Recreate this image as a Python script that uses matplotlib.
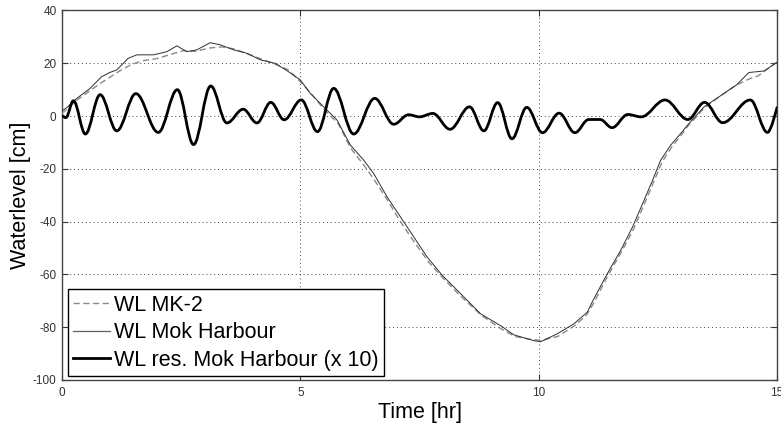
import matplotlib
matplotlib.use("Agg")
import matplotlib.pyplot as plt
from matplotlib.path import Path
from matplotlib.patches import PathPatch
from matplotlib.lines import Line2D

plt.rcParams['font.family'] = ['Liberation Sans', 'DejaVu Sans']

# Measured water level at MK-2 [hr, cm]
mk2_t = [0.0, 0.31, 0.6, 0.9, 1.2, 1.45, 1.7, 2.0, 2.3, 2.55, 2.8, 3.1, 3.35, 3.6,
         3.9, 4.2, 4.5, 4.75, 5.0, 5.25, 5.5, 5.8, 6.05, 6.35, 6.6, 6.85, 7.1, 7.4,
         7.7, 8.0, 8.35, 8.8, 9.2, 9.5, 9.8, 10.05, 10.4, 10.75, 11.0, 11.15, 11.45,
         11.75, 12.0, 12.2, 12.4, 12.6, 12.8, 13.0, 13.12, 13.47, 13.8, 14.15, 14.41,
         14.6, 15.0]
mk2_wl = [1.0, 6.0, 9.8, 13.5, 17.0, 19.5, 21.0, 21.8, 23.5, 24.8, 24.5, 25.8, 26.2,
          25.5, 23.5, 21.5, 19.5, 17.5, 13.0, 8.0, 2.5, -3.0, -12.0, -19.0, -25.5,
          -32.5, -40.0, -48.0, -55.5, -61.5, -68.0, -75.5, -80.5, -83.5, -84.5, -85.0,
          -83.5, -79.5, -75.5, -71.0, -60.5, -51.0, -42.5, -34.0, -25.5, -17.0, -11.5,
          -7.0, -4.0, 3.0, 7.5, 11.8, 14.0, 15.2, 20.4]

# Measured water level at Mok Harbour [hr, cm]
mok_t = [0.0, 0.1, 0.31, 0.59, 0.83, 1.0, 1.15, 1.39, 1.57, 1.92, 2.2, 2.41, 2.62,
         2.83, 3.11, 3.32, 3.6, 3.88, 4.16, 4.47, 4.72, 5.0, 5.21, 5.49, 5.77, 6.05,
         6.33, 6.54, 6.82, 7.1, 7.38, 7.66, 7.98, 8.33, 8.78, 9.2, 9.48, 9.9, 10.04,
         10.39, 10.74, 11.02, 11.13, 11.44, 11.72, 11.97, 12.18, 12.39, 12.56, 12.77,
         12.98, 13.12, 13.47, 13.8, 14.15, 14.41, 14.73, 15.0]
mok_wl = [2.0, 3.2, 6.7, 10.5, 14.9, 16.5, 17.5, 21.9, 23.2, 23.2, 24.4, 26.6, 24.4,
          25.1, 27.8, 27.0, 25.1, 23.8, 21.3, 20.0, 17.2, 13.7, 8.6, 3.5, -1.5, -11.0,
          -16.7, -21.8, -30.6, -38.2, -45.8, -53.4, -60.4, -66.7, -74.9, -79.4, -82.9,
          -85.1, -85.5, -82.5, -78.7, -74.3, -70.2, -59.7, -50.9, -42.0, -33.2, -24.3,
          -16.7, -11.0, -6.6, -3.5, 3.5, 7.5, 11.8, 16.5, 17.1, 20.4]

# Residual at Mok Harbour (scaled x 10): turning points of the signal [hr, cm]
res_t = [0.0, 0.08, 0.24, 0.49, 0.8, 1.15, 1.55, 2.02, 2.42, 2.76, 3.12, 3.46, 3.8,
         4.09, 4.38, 4.66, 5.02, 5.36, 5.7, 6.12, 6.56, 6.96, 7.27, 7.5, 7.78, 8.14,
         8.55, 8.85, 9.14, 9.44, 9.75, 10.08, 10.43, 10.76, 11.05, 11.29, 11.54,
         11.87, 12.15, 12.65, 13.13, 13.48, 13.86, 14.44, 14.8, 15.0]
res_wl = [0.0, -0.6, 5.8, -6.8, 8.1, -5.6, 8.5, -6.2, 10.0, -10.8, 11.4, -2.6, 2.6,
          -2.6, 5.2, -1.4, 6.1, -5.9, 10.5, -6.8, 6.7, -3.1, 0.5, -0.3, 1.0, -5.0,
          3.5, -5.6, 5.1, -8.6, 3.3, -6.3, 1.1, -6.3, -1.3, -1.3, -4.4, 0.6, -0.3,
          6.1, -1.3, 5.2, -2.5, 6.1, -6.2, 3.2]

x_ticks = [0, 5, 10, 15]
y_ticks = [-100, -80, -60, -40, -20, 0, 20, 40]

W, H = 781, 423
fig = plt.figure(figsize=(W / 100, H / 100), dpi=100)
ax = fig.add_axes([62 / W, (H - 380) / H, (777 - 62) / W, (380 - 10.5) / H])

# Residual drawn as a smooth curve with horizontal tangents at each turning point
k = 0.3634
verts = [(res_t[0], res_wl[0])]
codes = [Path.MOVETO]
n = len(res_t)
for i in range(n - 1):
    x0, y0 = res_t[i], res_wl[i]
    x1, y1 = res_t[i + 1], res_wl[i + 1]
    d = x1 - x0
    c1 = (x0 + k * d, y0)
    c2 = (x1 - k * d, y1) if i < n - 2 else (x1, y1)
    verts += [c1, c2, (x1, y1)]
    codes += [Path.CURVE4] * 3
res_patch = PathPatch(Path(verts, codes), facecolor='none', edgecolor='black',
                      lw=2.0, zorder=4, capstyle='round', joinstyle='round')

ax.plot(mk2_t, mk2_wl, color='#8a8a8a', lw=1.0, dashes=(4.5, 2.5), zorder=3)
ax.plot(mok_t, mok_wl, color='#303030', lw=0.7, zorder=3)
ax.add_patch(res_patch)

ax.set_xlim(0, 15)
ax.set_ylim(-100, 40)
ax.set_xticks(x_ticks)
ax.set_yticks(y_ticks)
ax.set_xticklabels([str(v) for v in x_ticks])
ax.set_yticklabels([str(v) for v in y_ticks])
ax.tick_params(direction='in', length=4, width=0.8, colors='#333333',
               labelsize=8.5, top=True, right=True, pad=4)
ax.tick_params(axis='x', pad=5)
for s in ax.spines.values():
    s.set_color('#444444')
    s.set_linewidth(1.0)
ax.grid(True, color='#444444', linestyle=(0, (1, 3)), lw=0.7)
ax.set_axisbelow(True)

ax.set_xlabel('Time [hr]', fontsize=15.5, labelpad=2)
ax.set_ylabel('Waterlevel [cm]', fontsize=15.5, labelpad=1)

handles = [Line2D([], [], color='#8a8a8a', lw=1.0, dashes=(4.5, 2.5)),
           Line2D([], [], color='#606060', lw=0.9),
           Line2D([], [], color='black', lw=2.0)]
labels = ['WL MK-2', 'WL Mok Harbour', 'WL res. Mok Harbour (x 10)']
leg = ax.legend(handles, labels, loc='lower left',
                bbox_to_anchor=(6 / 715, 4 / 369.5), borderaxespad=0,
                fontsize=15.5, fancybox=False, framealpha=1, edgecolor='black',
                handlelength=1.7, handletextpad=0.2, labelspacing=0.3,
                borderpad=0.25)
leg.get_frame().set_linewidth(1.0)

fig.savefig('out.png', dpi=100)
